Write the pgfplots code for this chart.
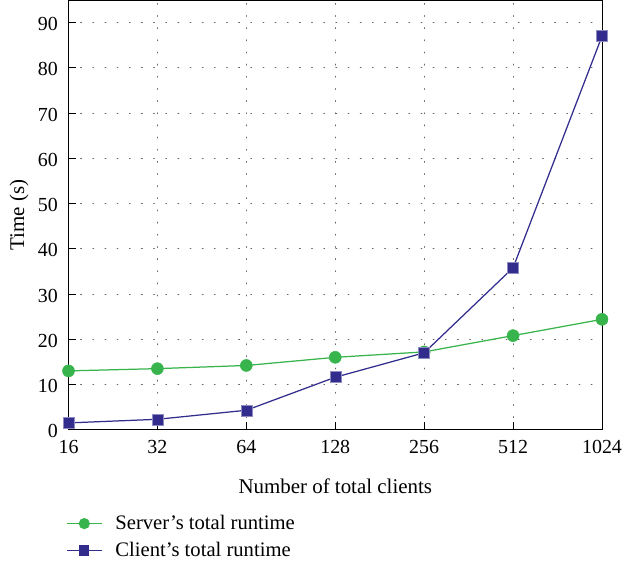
\documentclass[border=0pt]{standalone}
\usepackage{pgfplots}
\pgfplotsset{compat=1.18}
\usepackage{fontspec}
\setmainfont{Liberation Serif}
\definecolor{sgreen}{RGB}{55,180,75}
\definecolor{cblue}{RGB}{50,45,140}
\begin{document}
\begin{tikzpicture}[x=1bp,y=1bp]
\begin{axis}[
  at={(0,0)}, anchor=south west,
  width=533.5bp, height=429.7bp, scale only axis,
  xmode=log, log basis x=2,
  xmin=16, xmax=1024, ymin=0, ymax=95,
  xtick={16,32,64,128,256,512,1024},
  xticklabels={16,32,64,128,256,512,1024},
  ytick={0,10,...,90},
  tick align=inside, tick pos=left,
  major tick length=8bp,
  grid=major,
  major grid style={black!60, line width=0.9pt, dash pattern=on 0.9pt off 11.3pt, line cap=round},
  axis line style={line width=0.8pt},
  tick style={line width=0.8pt, black},
  /pgf/number format/assume math mode=true,
  ticklabel style={font=\fontsize{20}{22}\selectfont, inner sep=0pt},
  xticklabel style={anchor=base, yshift=-23.3bp},
  yticklabel style={anchor=east, xshift=-10.5bp, yshift=-1.5bp},
  label style={font=\fontsize{21}{24}\selectfont, inner sep=0pt},
  xlabel={Number of total clients},
  xlabel style={at={(axis description cs:0.5,0)}, anchor=base, yshift=-63.3bp},
  ylabel={Time (s)},
  ylabel style={at={(axis description cs:-0.0834,0.5)}, anchor=base},
  legend style={draw=none, fill=none, inner sep=0pt, at={(axis description cs:-0.0047,-0.195)}, anchor=north west, font=\fontsize{20.7}{24}\selectfont, row sep=7bp, column sep=11bp, legend cell align=left},
  legend image code/.code={\draw[mark repeat=2,mark phase=2,#1, mark options={scale=0.82}] plot coordinates {(0bp,0bp)(17.5bp,0bp)(35bp,0bp)};},
  clip=false,
]
\addplot[color=sgreen, line width=1.25pt, mark=*, mark size=6bp, mark options={fill=sgreen, draw=sgreen, line width=0.5pt}]
  coordinates {(16,13.0)(32,13.5)(64,14.2)(128,16.0)(256,17.2)(512,20.8)(1024,24.4)};
\addlegendentry{Server's total runtime}
\addplot[color=cblue, line width=1.25pt, mark=square*, mark size=5.5bp, mark options={fill=cblue, draw=cblue!55, line width=0.5pt}]
  coordinates {(16,1.5)(32,2.3)(64,4.3)(128,11.6)(256,17.0)(512,35.8)(1024,87.0)};
\addlegendentry{Client's total runtime}
\end{axis}
\pgfresetboundingbox
\path (-68.5bp,-135.3bp) rectangle (554.5bp,429.7bp);
\end{tikzpicture}
\end{document}
